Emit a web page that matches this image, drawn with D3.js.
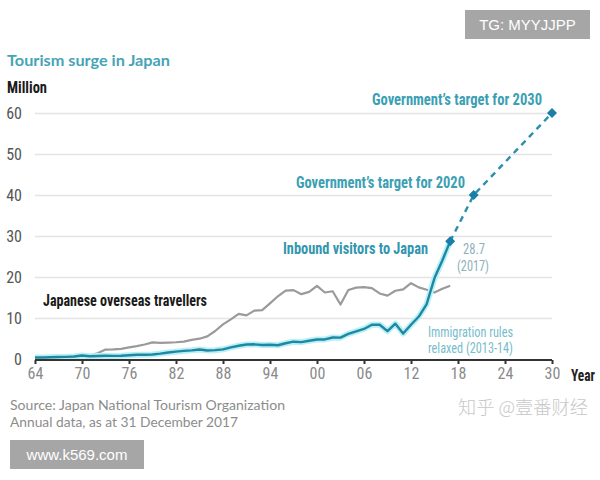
<!DOCTYPE html>
<html>
<head>
<meta charset="utf-8">
<script src="https://cdn.jsdelivr.net/npm/d3@7"></script>
<style>
  html, body { margin: 0; padding: 0; background: #fff; }
  svg { display: block; }
  .narrow { font-family: "Liberation Sans Narrow", "Roboto Condensed", "DejaVu Sans Condensed", Roboto, sans-serif; }
</style>
</head>
<body>
<svg id="chart"></svg>
<script>
// data
var years = [1964, 1965, 1966, 1967, 1968, 1969, 1970, 1971, 1972, 1973,
             1974, 1975, 1976, 1977, 1978, 1979, 1980, 1981, 1982, 1983,
             1984, 1985, 1986, 1987, 1988, 1989, 1990, 1991, 1992, 1993,
             1994, 1995, 1996, 1997, 1998, 1999, 2000, 2001, 2002, 2003,
             2004, 2005, 2006, 2007, 2008, 2009, 2010, 2011, 2012, 2013,
             2014, 2015, 2016, 2017];
var inbound = [0.35, 0.37, 0.43, 0.48, 0.52, 0.61, 0.85, 0.66, 0.72, 0.78,
               0.76, 0.81, 0.91, 1.03, 1.04, 1.11, 1.32, 1.58, 1.79, 1.97,
               2.11, 2.33, 2.06, 2.16, 2.36, 2.84, 3.24, 3.53, 3.58, 3.41,
               3.47, 3.35, 3.84, 4.22, 4.11, 4.44, 4.76, 4.77, 5.24, 5.21,
               6.14, 6.73, 7.33, 8.35, 8.35, 6.79, 8.61, 6.22, 8.36, 10.36,
               13.41, 19.74, 24.04, 28.69];
var outbound = [0.13, 0.16, 0.21, 0.27, 0.34, 0.49, 0.66, 0.96, 1.39, 2.29,
                2.34, 2.47, 2.85, 3.15, 3.53, 4.04, 3.91, 4.01, 4.09, 4.23,
                4.66, 4.95, 5.52, 6.83, 8.43, 9.66, 11.0, 10.63, 11.79, 11.93,
                13.58, 15.30, 16.69, 16.80, 15.81, 16.36, 17.82, 16.22, 16.52, 13.30,
                16.83, 17.40, 17.53, 17.29, 15.99, 15.45, 16.64, 16.99, 18.49, 17.47,
                16.90, 16.21, 17.12, 17.89];
var targetYears = [2017, 2020, 2030];
var targetValues = [28.7, 40, 60];
var xTicks = [1964, 1970, 1976, 1982, 1988, 1994, 2000, 2006, 2012, 2018, 2024, 2030];
var xTickLabels = ["64", "70", "76", "82", "88", "94", "00", "06", "12", "18", "24", "30"];
var yTicks = [0, 10, 20, 30, 40, 50, 60];

var width = 600, height = 480;
var svg = d3.select("#chart").attr("width", width).attr("height", height);

var x = d3.scaleLinear().domain([1964, 2030]).range([35, 552]);
var y = d3.scaleLinear().domain([0, 60]).range([359, 113]);

// gridlines
svg.append("g")
  .attr("transform", "translate(35,0)")
  .call(d3.axisLeft(y).tickValues(yTicks.slice(1)).tickSize(-(552 - 35)).tickFormat(""))
  .call(function(g) {
    g.select(".domain").remove();
    g.selectAll("line").attr("stroke", "#e4e4e4").attr("stroke-width", 1.4);
  });

// y labels
svg.append("g")
  .attr("transform", "translate(35,0)")
  .call(d3.axisLeft(y).tickValues(yTicks).tickSize(0).tickPadding(13))
  .call(function(g) {
    g.select(".domain").remove();
    g.selectAll("text")
      .attr("class", "narrow")
      .attr("fill", "#555")
      .style("font-size", "16px");
  });

var line = d3.line()
  .x(function(d, i) { return x(years[i]); })
  .y(function(d) { return y(d); });

// japanese overseas travellers
svg.append("path")
  .datum(outbound)
  .attr("d", line)
  .attr("fill", "none")
  .attr("stroke", "#9a9a9a")
  .attr("stroke-width", 2.2)
  .attr("stroke-linejoin", "round");

// inbound visitors: pale halo then the line
svg.append("path")
  .datum(inbound)
  .attr("d", line)
  .attr("fill", "none")
  .attr("stroke", "#b8f0f6")
  .attr("stroke-width", 6)
  .attr("stroke-linejoin", "round");
svg.append("path")
  .datum(inbound)
  .attr("d", line)
  .attr("fill", "none")
  .attr("stroke", "#1f87a2")
  .attr("stroke-width", 2.4)
  .attr("stroke-linejoin", "round");

// targets
var tline = d3.line()
  .x(function(d, i) { return x(targetYears[i]); })
  .y(function(d) { return y(d); });
svg.append("path")
  .datum(targetValues)
  .attr("d", tline)
  .attr("fill", "none")
  .attr("stroke", "#2a8fac")
  .attr("stroke-width", 2.4)
  .attr("stroke-dasharray", "6,5");

svg.selectAll(".diamond")
  .data(targetValues)
  .enter()
  .append("path")
  .attr("class", "diamond")
  .attr("d", d3.symbol().type(d3.symbolSquare).size(50))
  .attr("fill", "#1a7fa6")
  .attr("transform", function(d, i) {
    return "translate(" + x(targetYears[i]) + "," + y(d) + ") rotate(45)";
  });

// x axis
svg.append("g")
  .attr("transform", "translate(0,360)")
  .call(d3.axisBottom(x).tickValues(xTicks).tickSize(4).tickPadding(4)
    .tickFormat(function(d, i) { return xTickLabels[i]; }))
  .call(function(g) {
    g.select(".domain").attr("stroke", "#333").attr("stroke-width", 2)
      .attr("d", "M" + x(1964) + ",0H" + x(2030));
    g.selectAll("line").attr("stroke", "#333").attr("stroke-width", 2);
    g.selectAll("text")
      .attr("class", "narrow")
      .attr("fill", "#8a8a8a")
      .style("font-size", "16px");
  });

function label(txt, x0, base, w, size, color, weight, cls) {
  var t = svg.append("text")
    .attr("x", x0)
    .attr("y", base)
    .attr("fill", color)
    .style("font-size", size + "px")
    .style("font-weight", weight)
    .text(txt);
  if (cls) t.attr("class", cls);
  if (w) t.attr("textLength", w).attr("lengthAdjust", "spacingAndGlyphs");
  return t;
}

label("Tourism surge in Japan", 7, 66, 163, 15, "#45a4b6", "bold").style("font-family", "Lato, sans-serif");
label("Million", 7, 93, 40, 16, "#1a1a1a", "bold", "narrow");
label("Year", 571, 381, 24, 16, "#222", "bold", "narrow");

label("Government\u2019s target for 2030", 372, 105, 170, 16, "#3c9fb4", "bold", "narrow");
label("Government\u2019s target for 2020", 296, 188, 169, 16, "#3c9fb4", "bold", "narrow");
label("Inbound visitors to Japan", 283, 254, 145, 16, "#3296ae", "bold", "narrow");
label("Japanese overseas travellers", 43, 306, 164, 16, "#1a1a1a", "bold", "narrow");

label("28.7", 463, 254, 22, 14, "#8fb0bc", "normal", "narrow");
label("(2017)", 457, 271, 32, 14, "#8fb0bc", "normal", "narrow");
label("Immigration rules", 428, 337, 85, 14, "#79bccb", "normal", "narrow");
label("relaxed (2013-14)", 428, 353, 85, 14, "#79bccb", "normal", "narrow");

label("Source: Japan National Tourism Organization", 10, 410, 275, 14, "#8c8c8c", "normal").style("font-family", "Lato, sans-serif");
label("Annual data, as at 31 December 2017", 10, 427, 228, 14, "#8c8c8c", "normal").style("font-family", "Lato, sans-serif");

// watermarks
svg.append("text")
  .attr("x", 458).attr("y", 414)
  .attr("fill", "#c8c8c8")
  .style("font-family", "'Noto Sans CJK SC', sans-serif")
  .style("font-size", "18px")
  .style("font-weight", 300)
  .attr("textLength", 130).attr("lengthAdjust", "spacingAndGlyphs")
  .text("知乎 @壹番财经");

svg.append("rect").attr("x", 465).attr("y", 10).attr("width", 125).attr("height", 29).attr("fill", "#a6a6a6");
svg.append("text").attr("x", 527.5).attr("y", 30).attr("text-anchor", "middle")
  .attr("fill", "#fff").style("font-family", "'Liberation Sans', Arial, sans-serif").style("font-size", "15px")
  .text("TG: MYYJJPP");

svg.append("rect").attr("x", 10).attr("y", 440).attr("width", 134).attr("height", 29).attr("fill", "#a6a6a6");
svg.append("text").attr("x", 77).attr("y", 460).attr("text-anchor", "middle")
  .attr("fill", "#fff").style("font-family", "'Liberation Sans', Arial, sans-serif").style("font-size", "15px")
  .text("www.k569.com");
</script>
</body>
</html>
